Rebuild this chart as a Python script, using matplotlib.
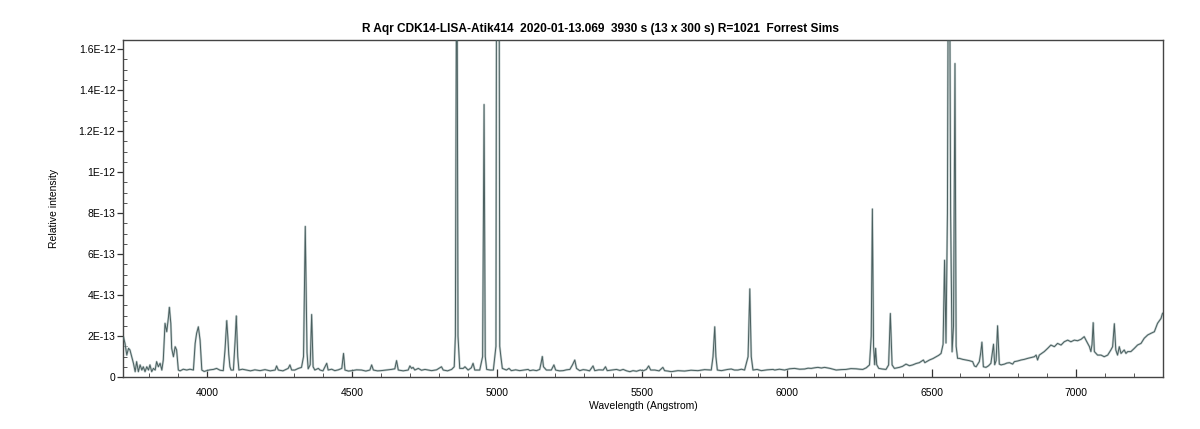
import numpy as np
import matplotlib
matplotlib.use("Agg")
import matplotlib.pyplot as plt
from matplotlib.ticker import MultipleLocator, FixedLocator

plt.rcParams['font.family'] = ['Liberation Sans', 'DejaVu Sans']

TITLE = "R Aqr CDK14-LISA-Atik414  2020-01-13.069  3930 s (13 x 300 s) R=1021  Forrest Sims"
XLABEL = "Wavelength (Angstrom)"
YLABEL = "Relative intensity"
SCALE = 1e-13

# Wavelength (Angstrom) and flux (units of 1e-13)
wl_blue = [3709, 3711, 3717, 3723, 3729, 3734, 3740, 3746, 3752, 3757, 3763, 3769, 3775, 3780,
           3786, 3792, 3798, 3803, 3809, 3815, 3821, 3826, 3832, 3838, 3844, 3849, 3855, 3861,
           3867, 3870, 3875, 3878, 3884, 3890, 3895, 3901, 3907, 3918, 3930, 3941, 3953, 3959,
           3964, 3970, 3976, 3982, 3990, 3999, 4010, 4022, 4033, 4045, 4056, 4062, 4068, 4072,
           4075, 4079, 4083, 4091, 4097, 4101, 4106, 4110, 4122, 4137, 4150, 4165, 4183, 4200,
           4218, 4235, 4240, 4246, 4262, 4280, 4286, 4292, 4303, 4315, 4326, 4333, 4339, 4345,
           4349, 4356, 4361, 4366, 4372, 4384, 4390, 4400, 4413, 4418, 4430, 4441, 4453, 4465,
           4471, 4476, 4488, 4500, 4516, 4533, 4548, 4562, 4568, 4574, 4588, 4600, 4618, 4636,
           4648, 4654, 4660, 4677, 4694, 4700, 4706, 4711, 4717, 4729, 4740, 4752, 4764, 4775,
           4792, 4809, 4815, 4830, 4844]
fl_blue = [1.75, 1.97, 1.64, 1.07, 1.40, 1.32, 0.99, 0.67, 0.26, 0.75, 0.26, 0.59, 0.34, 0.50,
           0.26, 0.50, 0.34, 0.59, 0.26, 0.42, 0.34, 0.75, 0.50, 0.67, 0.34, 0.83, 2.62, 2.21,
           2.94, 3.40, 2.62, 1.40, 0.99, 1.48, 1.32, 0.34, 0.30, 0.38, 0.34, 0.38, 0.34, 1.64,
           2.13, 2.45, 1.80, 0.34, 0.27, 0.31, 0.35, 0.37, 0.42, 0.33, 0.31, 1.32, 2.75, 1.90,
           1.10, 0.50, 0.34, 0.34, 1.80, 2.98, 0.99, 0.34, 0.38, 0.34, 0.30, 0.35, 0.31, 0.36,
           0.30, 0.34, 0.54, 0.34, 0.30, 0.42, 0.59, 0.34, 0.34, 0.42, 0.47, 1.00, 7.35, 1.20,
           0.40, 0.60, 3.05, 0.50, 0.34, 0.42, 0.34, 0.30, 0.67, 0.34, 0.38, 0.31, 0.35, 0.42,
           1.15, 0.34, 0.29, 0.31, 0.35, 0.34, 0.29, 0.34, 0.59, 0.34, 0.30, 0.31, 0.34, 0.37,
           0.40, 0.80, 0.34, 0.30, 0.34, 0.54, 0.42, 0.47, 0.34, 0.42, 0.33, 0.37, 0.34, 0.31,
           0.35, 0.50, 0.34, 0.30, 0.37]

wl_green = [4853, 4857, 4862, 4866, 4872, 4884, 4890, 4901, 4912, 4918, 4924, 4941, 4951, 4956,
            4960, 4965, 4977, 4988, 4997, 5001, 5006, 5010, 5014, 5019, 5033, 5042, 5050, 5065,
            5079, 5093, 5108, 5114, 5125, 5137, 5148, 5153, 5157, 5161, 5171, 5188, 5197, 5203,
            5216, 5229, 5240, 5252, 5261, 5269, 5275, 5286, 5298, 5309, 5320, 5332, 5338, 5352,
            5367, 5375, 5381, 5397, 5413, 5425, 5436, 5448, 5459, 5470, 5482, 5495, 5505, 5516,
            5524, 5531, 5545, 5560, 5573, 5579, 5590, 5602, 5625, 5648, 5670, 5694, 5717, 5740,
            5746, 5752, 5756, 5761, 5775, 5786, 5797, 5809, 5820, 5832, 5844, 5855, 5867, 5873,
            5878, 5884, 5898, 5913, 5933, 5953, 5959, 5975, 5993, 6010, 6027, 6045, 6062, 6074,
            6085, 6097, 6108, 6120, 6131, 6150, 6160, 6171, 6188, 6205, 6222, 6240, 6252, 6263,
            6275]
fl_green = [0.50, 2.00, 25.0, 2.00, 0.42, 0.42, 0.50, 0.34, 0.45, 0.67, 0.34, 0.34, 1.00, 13.3,
            1.00, 0.37, 0.34, 0.34, 1.50, 40.0, 40.0, 1.50, 0.99, 0.42, 0.34, 0.42, 0.31, 0.35,
            0.31, 0.34, 0.37, 0.31, 0.34, 0.31, 0.37, 0.70, 1.00, 0.50, 0.34, 0.34, 0.59, 0.34,
            0.30, 0.31, 0.35, 0.37, 0.59, 0.83, 0.42, 0.31, 0.36, 0.34, 0.30, 0.54, 0.31, 0.35,
            0.34, 0.50, 0.31, 0.34, 0.37, 0.32, 0.37, 0.30, 0.26, 0.31, 0.28, 0.34, 0.30, 0.37,
            0.54, 0.34, 0.34, 0.30, 0.47, 0.31, 0.29, 0.26, 0.31, 0.29, 0.33, 0.31, 0.36, 0.34,
            0.99, 2.45, 0.99, 0.34, 0.31, 0.34, 0.37, 0.39, 0.34, 0.34, 0.38, 0.34, 0.99, 4.30,
            0.99, 0.34, 0.37, 0.31, 0.35, 0.37, 0.34, 0.38, 0.34, 0.40, 0.42, 0.38, 0.39, 0.43,
            0.42, 0.45, 0.47, 0.44, 0.47, 0.42, 0.38, 0.34, 0.36, 0.37, 0.41, 0.40, 0.38, 0.37,
            0.45]

wl_red = [6286, 6292, 6296, 6300, 6304, 6307, 6311, 6318, 6330, 6343, 6352, 6358, 6364, 6372,
          6389, 6400, 6412, 6424, 6435, 6447, 6458, 6472, 6477, 6493, 6505, 6516, 6525, 6533,
          6540, 6545, 6550, 6555, 6560, 6566, 6571, 6576, 6581, 6585, 6590, 6596, 6608, 6619,
          6630, 6642, 6648, 6654, 6665, 6670, 6674, 6679, 6688, 6697, 6705, 6710, 6714, 6718,
          6723, 6728, 6734, 6740, 6752, 6760, 6769, 6780, 6786, 6797, 6809, 6820, 6832, 6843,
          6855, 6861, 6866, 6872, 6880, 6889, 6901, 6912, 6924, 6935, 6947, 6958, 6970, 6981,
          6993, 7004, 7016, 7027, 7033, 7045, 7050, 7054, 7058, 7062, 7073, 7085, 7096, 7108,
          7119, 7125, 7131, 7136, 7142, 7148, 7154, 7165, 7171, 7177, 7188, 7200, 7211, 7223,
          7234, 7246, 7257, 7269, 7280, 7292, 7297, 7302]
fl_red = [0.59, 2.00, 8.20, 1.50, 0.60, 1.40, 0.60, 0.42, 0.39, 0.37, 0.59, 3.10, 0.59, 0.42,
          0.47, 0.52, 0.63, 0.55, 0.59, 0.66, 0.70, 0.83, 0.70, 0.83, 0.90, 0.99, 1.06, 1.15,
          1.60, 5.70, 1.66, 8.00, 30.0, 8.00, 1.23, 2.50, 15.3, 1.50, 0.91, 0.91, 0.86, 0.83,
          0.80, 0.75, 0.54, 0.50, 0.75, 1.20, 1.70, 0.50, 0.47, 0.55, 0.67, 1.20, 1.60, 0.60,
          0.80, 2.50, 0.63, 0.59, 0.63, 0.68, 0.70, 0.63, 0.75, 0.78, 0.83, 0.86, 0.91, 0.95,
          0.99, 1.07, 0.83, 1.07, 1.15, 1.24, 1.40, 1.56, 1.48, 1.64, 1.56, 1.72, 1.80, 1.72,
          1.80, 1.77, 1.84, 1.97, 1.80, 1.48, 1.24, 1.60, 2.65, 1.24, 1.07, 1.07, 0.99, 1.07,
          1.32, 1.48, 2.60, 1.32, 1.07, 1.48, 1.15, 1.32, 1.15, 1.24, 1.24, 1.40, 1.56, 1.64,
          1.89, 2.05, 2.13, 2.21, 2.62, 2.86, 3.10, 3.15]

x_ticks = [4000, 4500, 5000, 5500, 6000, 6500, 7000]
y_ticks = [0, 2e-13, 4e-13, 6e-13, 8e-13, 1e-12, 1.2e-12, 1.4e-12, 1.6e-12]
y_ticklabels = ["0", "2E-13", "4E-13", "6E-13", "8E-13", "1E-12", "1.2E-12", "1.4E-12", "1.6E-12"]

wl = np.array(wl_blue + wl_green + wl_red, dtype=float)
fl = np.array(fl_blue + fl_green + fl_red, dtype=float) * SCALE

fig = plt.figure(figsize=(12, 4.29), dpi=100)
ax = fig.add_axes([0.1025, 0.1212, 0.8667, 0.7856])

ax.plot(wl, fl, color="#c3cfcf", lw=1.6, solid_joinstyle="round", zorder=2)
ax.plot(wl, fl, color="#4a5f5f", lw=0.7, solid_joinstyle="round", zorder=3)

ax.set_xlim(3710, 7299)
ax.set_ylim(0, 1.645e-12)

ax.xaxis.set_major_locator(FixedLocator(x_ticks))
ax.xaxis.set_minor_locator(MultipleLocator(100))
ax.set_yticks(y_ticks)
ax.set_yticklabels(y_ticklabels)
ax.yaxis.set_minor_locator(MultipleLocator(0.5e-13))

ax.tick_params(axis="x", which="major", direction="in", length=6, width=0.9, labelsize=7.5,
               colors="#333333", labelcolor="black", pad=8)
ax.tick_params(axis="x", which="minor", direction="in", length=3, width=0.7, colors="#555555")
ax.tick_params(axis="y", which="major", direction="out", length=4, width=0.9, labelsize=7.5,
               colors="#333333", labelcolor="black", pad=1.5)
ax.tick_params(axis="y", which="minor", direction="in", length=3, width=0.7, colors="#555555")

for s in ax.spines.values():
    s.set_color("#444444")
    s.set_linewidth(1.0)

fig.text(0.5, 1 - 29 / 429, TITLE, fontsize=8.6, fontweight="bold", ha="center", va="center")
ax.set_xlabel(XLABEL, fontsize=7.5, labelpad=2)
ax.set_ylabel(YLABEL, fontsize=7.5, labelpad=14)

fig.savefig("out.png", dpi=100)
